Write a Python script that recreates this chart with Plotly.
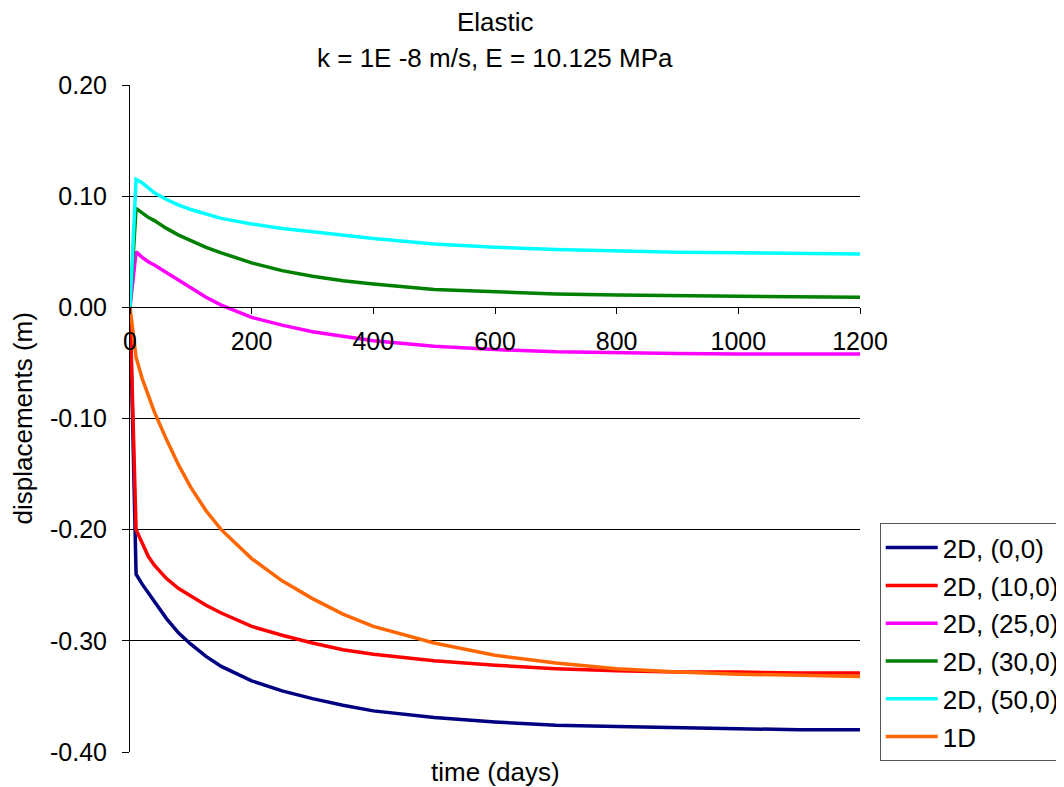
import plotly.graph_objects as go

time_days = [0, 10, 20, 30, 40, 60, 80, 100, 125, 150, 200, 250, 300, 350, 400, 500, 600, 700, 800, 900, 1000, 1100, 1200]

d2_00 = [0, -0.240, -0.249, -0.257, -0.265, -0.280, -0.293, -0.303, -0.314, -0.323, -0.336, -0.345, -0.352, -0.358, -0.363, -0.369, -0.373, -0.376, -0.377, -0.378, -0.379, -0.380, -0.380]
d2_10 = [0, -0.200, -0.212, -0.224, -0.232, -0.244, -0.253, -0.260, -0.268, -0.275, -0.287, -0.295, -0.302, -0.308, -0.312, -0.318, -0.322, -0.325, -0.327, -0.328, -0.328, -0.329, -0.329]
d2_25 = [0, 0.050, 0.045, 0.041, 0.038, 0.031, 0.024, 0.017, 0.009, 0.002, -0.009, -0.016, -0.022, -0.026, -0.030, -0.035, -0.038, -0.040, -0.041, -0.0415, -0.042, -0.042, -0.042]
d2_30 = [0, 0.089, 0.085, 0.081, 0.078, 0.071, 0.065, 0.060, 0.054, 0.049, 0.040, 0.033, 0.028, 0.024, 0.021, 0.016, 0.014, 0.012, 0.011, 0.0105, 0.010, 0.0095, 0.009]
d2_50 = [0, 0.115, 0.112, 0.107, 0.103, 0.097, 0.092, 0.088, 0.084, 0.080, 0.075, 0.071, 0.068, 0.065, 0.062, 0.057, 0.054, 0.052, 0.0505, 0.0495, 0.049, 0.0485, 0.048]
d1 = [0, -0.045, -0.064, -0.080, -0.094, -0.119, -0.142, -0.162, -0.183, -0.200, -0.226, -0.246, -0.262, -0.276, -0.287, -0.302, -0.313, -0.320, -0.325, -0.328, -0.330, -0.331, -0.332]

series = [
    ("2D, (0,0)", d2_00, "#000080"),
    ("2D, (10,0)", d2_10, "#FF0000"),
    ("2D, (25,0)", d2_25, "#FF00FF"),
    ("2D, (30,0)", d2_30, "#008000"),
    ("2D, (50,0)", d2_50, "#00FFFF"),
    ("1D", d1, "#FF6600"),
]

x_ticks = [0, 200, 400, 600, 800, 1000, 1200]
y_ticks = [0.20, 0.10, 0.00, -0.10, -0.20, -0.30, -0.40]

fig = go.Figure()
for i, (name, vals, col) in enumerate(series):
    fig.add_trace(go.Scatter(x=time_days, y=vals, name=name, mode="lines",
                             legendgroup=f"g{i}",
                             line=dict(color=col, width=3.5)))

font = "Liberation Sans, Arial, sans-serif"
fig.update_layout(
    width=1056, height=779,
    margin=dict(l=122, r=204, t=77, b=35, autoexpand=False),
    paper_bgcolor="white", plot_bgcolor="white",
    font=dict(family=font, size=25, color="black"),
    showlegend=True,
    legend=dict(x=1.027, y=0.343, xanchor="left", yanchor="top",
                bordercolor="#555555", borderwidth=1, bgcolor="white",
                font=dict(size=26), tracegroupgap=1, itemwidth=52),
    xaxis=dict(range=[0, 1200], tickvals=x_ticks, ticktext=[str(v) for v in x_ticks],
               showgrid=False, zeroline=False, showline=True, linecolor="black", linewidth=1,
               ticks="outside", ticklen=6, tickcolor="black", ticklabelstandoff=6,
               anchor="free", position=2/3, tickfont=dict(size=25)),
    yaxis=dict(range=[-0.4, 0.2], tickvals=y_ticks, ticktext=[f"{v:.2f}" for v in y_ticks],
               domain=[0, 1], showgrid=True, gridcolor="black", gridwidth=1,
               zeroline=False, showline=True, linecolor="black", linewidth=1,
               ticks="outside", ticklen=7, tickcolor="black", tickfont=dict(size=25),
               ticklabelstandoff=10),
    annotations=[
        dict(text="Elastic", x=0.5, y=1, xref="paper", yref="paper", xanchor="center",
             yanchor="middle", yshift=63, showarrow=False, font=dict(size=26)),
        dict(text="k = 1E -8 m/s, E = 10.125 MPa", x=0.5, y=1, xref="paper", yref="paper",
             xanchor="center", yanchor="middle", yshift=27, showarrow=False, font=dict(size=26)),
        dict(text="time (days)", x=0.5, y=0, xref="paper", yref="paper", xanchor="center",
             yanchor="middle", yshift=-20, showarrow=False, font=dict(size=26)),
        dict(text="displacements (m)", x=0, y=0.5, xref="paper", yref="paper", xanchor="center",
             yanchor="middle", xshift=-108, textangle=-90, showarrow=False, font=dict(size=26)),
    ],
)

fig.write_html("out.html")
